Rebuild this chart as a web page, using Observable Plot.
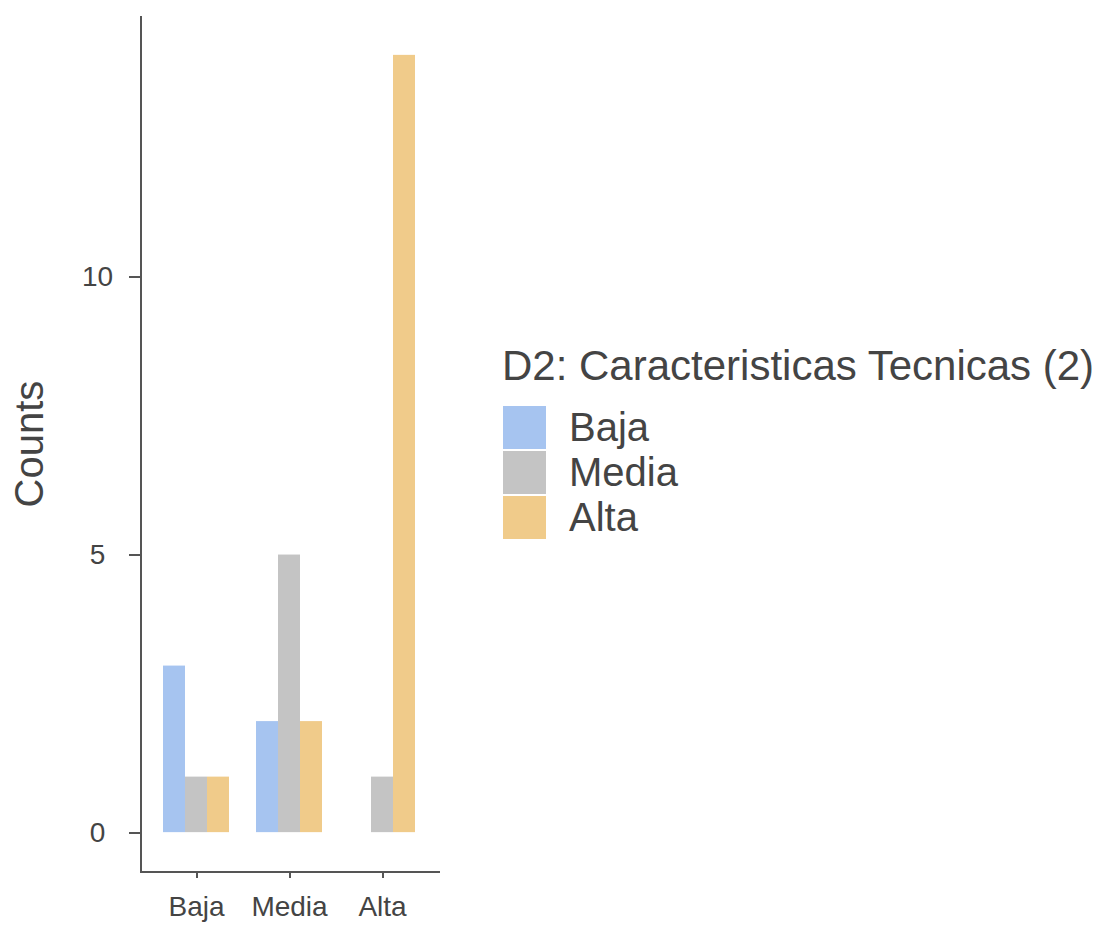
<!DOCTYPE html>
<html><head><meta charset="utf-8">
<script src="https://cdn.jsdelivr.net/npm/d3@7"></script>
<script src="https://cdn.jsdelivr.net/npm/@observablehq/plot@0.6"></script>
<style>
html,body{margin:0;padding:0;background:#fff;}
#wrap{position:relative;width:1101px;height:927px;font-family:"Liberation Sans",Arial,sans-serif;}
#chart{position:absolute;left:0;top:0;}
#chart svg line, #chart svg path{shape-rendering:crispEdges;}
#legend{position:absolute;left:502px;top:345px;color:#444;}
#legend .title{font-size:42px;line-height:42px;white-space:nowrap;margin-bottom:18px;}
#legend .row{display:flex;align-items:center;height:45px;}
#legend .key{width:43px;height:43px;border:1px solid #fff;margin-right:22px;}
#legend .lab{font-size:40px;line-height:45px;}
</style></head>
<body>
<div id="wrap"><div id="chart"></div><div id="legend"></div></div>
<script>
const groups = ["Baja", "Media", "Alta"];
const levels = ["Baja", "Media", "Alta"];
const serieBaja = [3, 2, 0];
const serieMedia = [1, 5, 1];
const serieAlta = [1, 2, 14];
const colors = ["#a6c4f0", "#c4c4c4", "#f0cb8a"];
const yTicks = [0, 5, 10];
const yDomain = [-0.7, 14.7];
const yLabel = "Counts";
const legendTitle = "D2: Caracteristicas Tecnicas (2)";

const series = [serieBaja, serieMedia, serieAlta];
const data = groups.flatMap((g, gi) => levels.map((l, li) => ({group: g, level: l, count: series[li][gi]})));

const lineColor = "#555";
const lw = 2;
const plot = Plot.plot({
  width: 460, height: 927,
  marginLeft: 139, marginRight: 22, marginTop: 16, marginBottom: 56,
  style: {fontFamily: "'Liberation Sans', Arial, sans-serif", fontSize: "28px", color: "#444", background: "transparent"},
  fx: {domain: groups, paddingInner: -0.2, paddingOuter: 0},
  x: {domain: levels, paddingInner: 0, paddingOuter: 0.97, axis: null},
  y: {domain: yDomain},
  color: {domain: levels, range: colors},
  marks: [
    Plot.barY(data, {fx: "group", x: "level", y: "count", fill: "level"}),
    Plot.frame({anchor: "bottom", stroke: lineColor, strokeWidth: lw}),
    Plot.frame({anchor: "left", fx: () => groups[0], stroke: lineColor, strokeWidth: lw}),
    Plot.axisY(yTicks, {tickSize: 11, tickPadding: 32, textAnchor: "middle", tickFormat: "d", stroke: lineColor, strokeWidth: lw, fontSize: 28, label: null}),
    Plot.axisY([], {label: yLabel, labelAnchor: "center", labelArrow: "none", labelOffset: 126, fontSize: 40, tickSize: 0}),
    Plot.axisFx({anchor: "bottom", tickSize: 7, tickPadding: 18, label: null, fontSize: 28, stroke: lineColor, strokeWidth: lw})
  ]
});
document.getElementById("chart").appendChild(plot);

const legend = d3.select("#legend");
legend.append("div").attr("class", "title").text(legendTitle);
levels.forEach((l, i) => {
  const row = legend.append("div").attr("class", "row");
  row.append("div").attr("class", "key").style("background", colors[i]);
  row.append("div").attr("class", "lab").text(l);
});
</script>
</body></html>
